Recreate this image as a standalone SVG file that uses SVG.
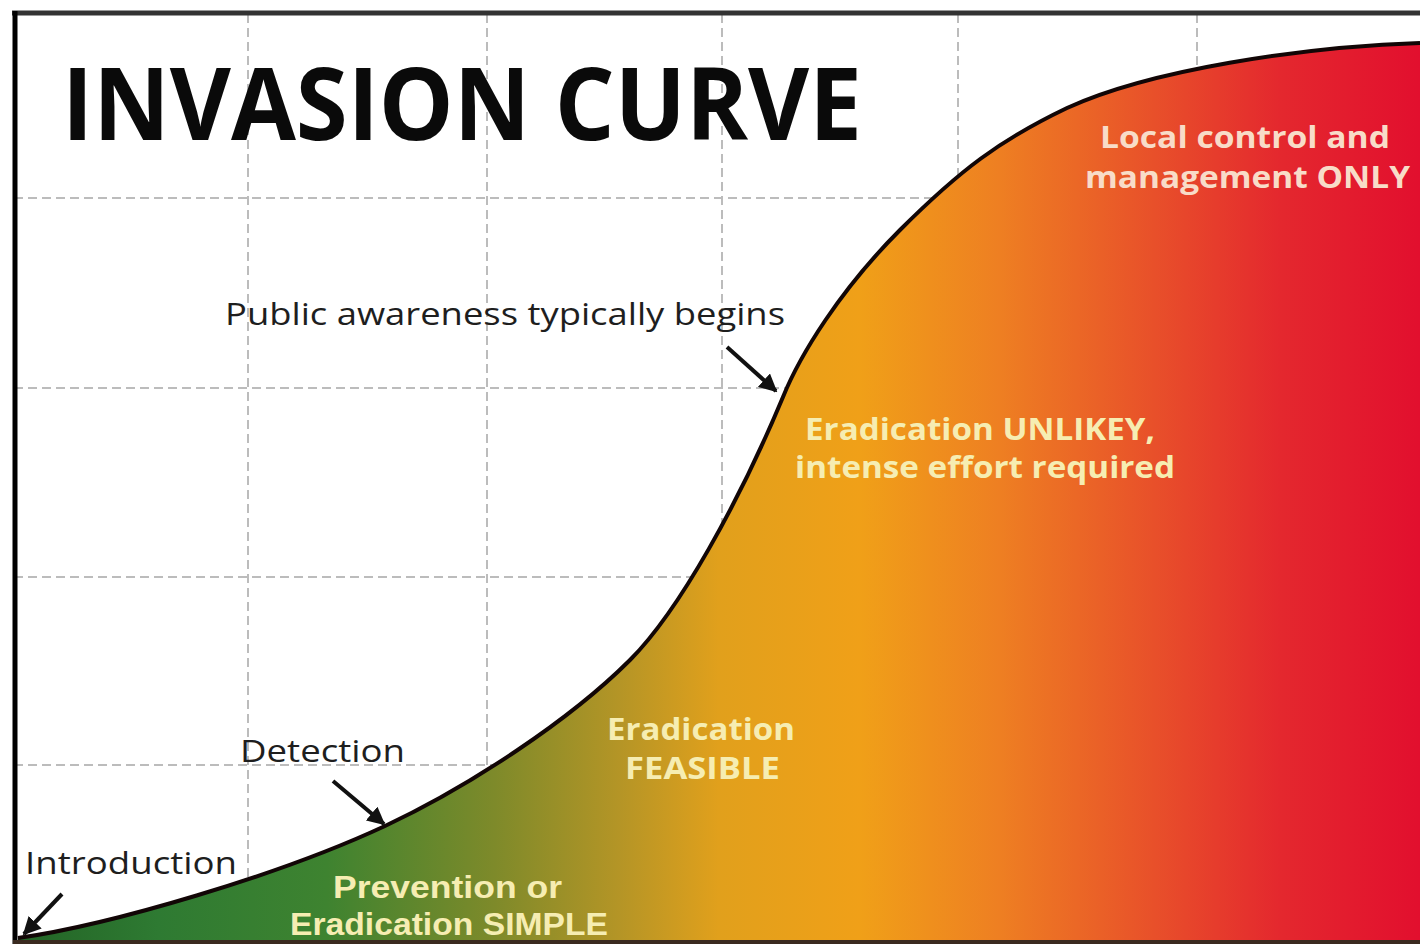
<svg xmlns="http://www.w3.org/2000/svg" width="1420" height="947" viewBox="0 0 1420 947">
<style>
.grid{stroke:#bcbcbc;stroke-width:2;stroke-dasharray:9 5;fill:none}
.lbl{font-family:"Open Sans","Liberation Sans",sans-serif;fill:#1e1e1e;font-size:31px}
.inl{font-family:"Open Sans","Liberation Sans",sans-serif;font-weight:bold;font-size:31px;fill:#f6edb2}
.inl2{font-family:"Liberation Sans","Open Sans",sans-serif;font-weight:bold;font-size:32px;fill:#f6edb2}
.arr{stroke:#111;stroke-width:4;fill:none;marker-end:url(#ah)}
</style>
<defs>
<linearGradient id="g" x1="18" y1="0" x2="1420" y2="0" gradientUnits="userSpaceOnUse">
<stop offset="0" stop-color="#236426"/>
<stop offset="0.1" stop-color="#2e7a32"/>
<stop offset="0.22" stop-color="#3e8330"/>
<stop offset="0.34" stop-color="#7e8a2a"/>
<stop offset="0.43" stop-color="#b59526"/>
<stop offset="0.5" stop-color="#e1a01c"/>
<stop offset="0.6" stop-color="#f0a018"/>
<stop offset="0.7" stop-color="#ee7f22"/>
<stop offset="0.81" stop-color="#e8502a"/>
<stop offset="0.9" stop-color="#e4282e"/>
<stop offset="1" stop-color="#e20f2e"/>
</linearGradient>
<marker id="ah" viewBox="0 0 10 10" refX="9" refY="5" markerWidth="4.5" markerHeight="4.5" orient="auto">
<path d="M0,0 L10,5 L0,10 Z" fill="#111"/>
</marker>
</defs>
<rect width="1420" height="947" fill="#fff"/>
<g id="grid">
<line class="grid" x1="14" y1="198" x2="1420" y2="198"/>
<line class="grid" x1="14" y1="388" x2="1420" y2="388"/>
<line class="grid" x1="14" y1="577" x2="1420" y2="577"/>
<line class="grid" x1="14" y1="765" x2="1420" y2="765"/>
<line class="grid" x1="248" y1="14" x2="248" y2="940"/>
<line class="grid" x1="487" y1="14" x2="487" y2="940"/>
<line class="grid" x1="722" y1="14" x2="722" y2="940"/>
<line class="grid" x1="958" y1="14" x2="958" y2="940"/>
<line class="grid" x1="1197" y1="14" x2="1197" y2="940"/>
</g>
<g id="area">
<path d="M18,938 C110,925 280,875 385,826 C470,786 570,720 630,660 C680,610 740,500 783,397 C800,355 840,290 900,230 C960,170 1000,140 1067,108 C1150,70 1300,47 1420,43 L1420,941 L18,941 Z" fill="url(#g)"/>
<path d="M18,938 C110,925 280,875 385,826 C470,786 570,720 630,660 C680,610 740,500 783,397 C800,355 840,290 900,230 C960,170 1000,140 1067,108 C1150,70 1300,47 1420,43" fill="none" stroke="#120606" stroke-width="4"/>
</g>
<g id="frame">
<line x1="12" y1="13" x2="1420" y2="13" stroke="#333" stroke-width="5"/>
<line x1="15" y1="11" x2="15" y2="944" stroke="#000" stroke-width="5"/>
<line x1="13" y1="942" x2="1420" y2="942" stroke="#3a2a20" stroke-width="4"/>
</g>
<g id="title">
<text x="62" y="140" font-family="'Open Sans','Liberation Sans',sans-serif" font-weight="bold" font-size="100" fill="#0a0a0a" textLength="800" lengthAdjust="spacingAndGlyphs">INVASION CURVE</text>
</g>
<g id="connectors">
<line class="arr" x1="727" y1="347" x2="776" y2="391"/>
<line class="arr" x1="333" y1="781" x2="384" y2="824"/>
<line class="arr" x1="62" y1="894" x2="24" y2="934"/>
</g>
<g id="public-awareness">
<text class="lbl" x="225" y="325" textLength="560" lengthAdjust="spacingAndGlyphs">Public awareness typically begins</text>
</g>
<g id="detection">
<text class="lbl" x="240" y="762" textLength="165" lengthAdjust="spacingAndGlyphs">Detection</text>
</g>
<g id="introduction">
<text class="lbl" x="25" y="874" textLength="212" lengthAdjust="spacingAndGlyphs">Introduction</text>
</g>
<g id="prevention">
<text class="inl2" x="333" y="898" textLength="229" lengthAdjust="spacingAndGlyphs">Prevention or</text>
<text class="inl2" x="290" y="935" textLength="318" lengthAdjust="spacingAndGlyphs">Eradication SIMPLE</text>
</g>
<g id="feasible">
<text class="inl" x="607" y="740" textLength="188" lengthAdjust="spacingAndGlyphs">Eradication</text>
<text class="inl" x="625" y="779" textLength="155" lengthAdjust="spacingAndGlyphs">FEASIBLE</text>
</g>
<g id="unlikely">
<text class="inl" x="805" y="440" textLength="350" lengthAdjust="spacingAndGlyphs">Eradication UNLIKEY,</text>
<text class="inl" x="795" y="478" textLength="380" lengthAdjust="spacingAndGlyphs">intense effort required</text>
</g>
<g id="local-control">
<text class="inl" x="1100" y="148" style="fill:#f8dcc8" textLength="290" lengthAdjust="spacingAndGlyphs">Local control and</text>
<text class="inl" x="1085" y="188" style="fill:#f8dcc8" textLength="325" lengthAdjust="spacingAndGlyphs">management ONLY</text>
</g>
</svg>
